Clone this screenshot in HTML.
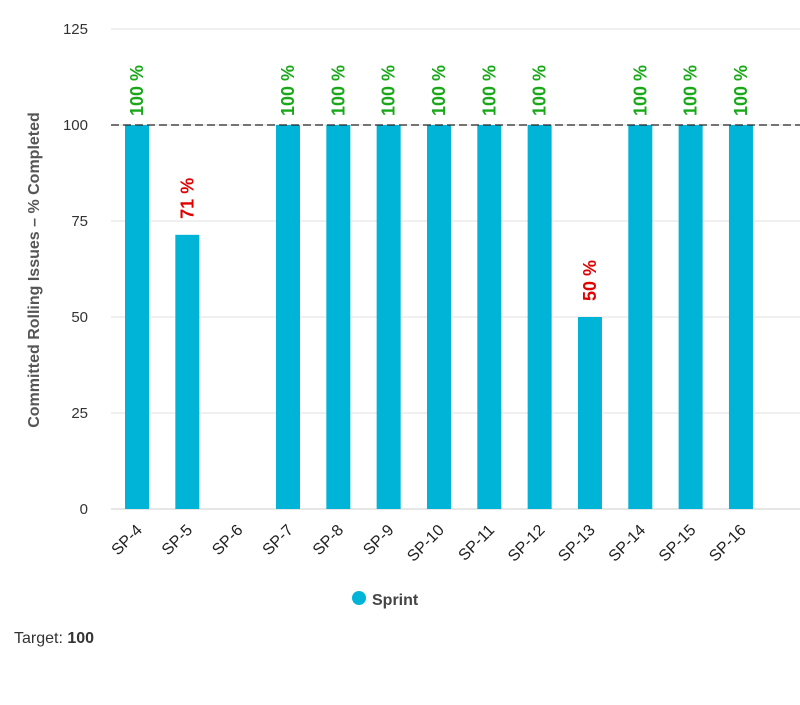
<!DOCTYPE html>
<html><head><meta charset="utf-8"><style>
body{margin:0;background:#fff;font-family:"Liberation Sans",sans-serif}
</style></head><body>
<svg width="800" height="700" id="c" xmlns="http://www.w3.org/2000/svg">
<text transform="translate(39,270) rotate(-90)" text-anchor="middle" font-size="16" font-weight="bold" fill="#555">Committed Rolling Issues – % Completed</text>
<g id="grid"></g><g id="bars"></g><g id="labels"></g>
<g><circle cx="359" cy="598" r="7" fill="#00b4d8"/><text x="372" y="605" font-size="16" font-weight="bold" fill="#444">Sprint</text></g>
<text x="14" y="643" font-size="16" fill="#333">Target: <tspan font-weight="bold">100</tspan></text>
</svg>
<script>
const categories=["SP-4","SP-5","SP-6","SP-7","SP-8","SP-9","SP-10","SP-11","SP-12","SP-13","SP-14","SP-15","SP-16"];
const values=[100,71.4,0,100,100,100,100,100,100,50,100,100,100];
const valueLabels=["100 %","71 %","","100 %","100 %","100 %","100 %","100 %","100 %","50 %","100 %","100 %","100 %"];
const yTicks=[0,25,50,75,100,125];
const target=100;
const NS="http://www.w3.org/2000/svg";
const y=v=>509-v*3.84;
const x=i=>137+i*50.33;
function mk(t,a,p,txt){const e=document.createElementNS(NS,t);for(const k in a)e.setAttribute(k,a[k]);if(txt!==undefined)e.textContent=txt;document.getElementById(p).appendChild(e);return e;}
yTicks.forEach(t=>{
 const l=mk('line',{x1:111,x2:800,y1:y(t),y2:y(t),stroke:t===0?'#ccc':'#e0e0e0','stroke-width':1},'grid');
 
 
 const tx=mk('text',{x:88,y:y(t)+5,'text-anchor':'end','font-size':15,fill:'#333'},'grid',t);
 
 
});
categories.forEach((c,i)=>{
 const v=values[i];
 if(v>0){const r=mk('rect',{x:x(i)-12,y:y(v),width:24,height:y(0)-y(v),fill:'#00b4d8'},'bars');
 
 }
 const t=mk('text',{transform:`translate(${x(i)+6},${531}) rotate(-45)`,'text-anchor':'end','font-size':16,fill:'#222'},'labels',c);
 
 
 if(valueLabels[i]){const col=v>=target?'#1aa81a':'#e00000';
 const gap=v>=target?9:16;
 const vl=mk('text',{transform:`translate(${x(i)+6},${y(v)-gap}) rotate(-90)`,'font-size':18,'font-weight':'bold',fill:col},'labels',valueLabels[i]);
 
 }
});
const d=mk('line',{x1:111,x2:800,y1:y(target),y2:y(target),stroke:'#222','stroke-dasharray':'8,4','stroke-width':1.2},'labels');


</script>
</body></html>
